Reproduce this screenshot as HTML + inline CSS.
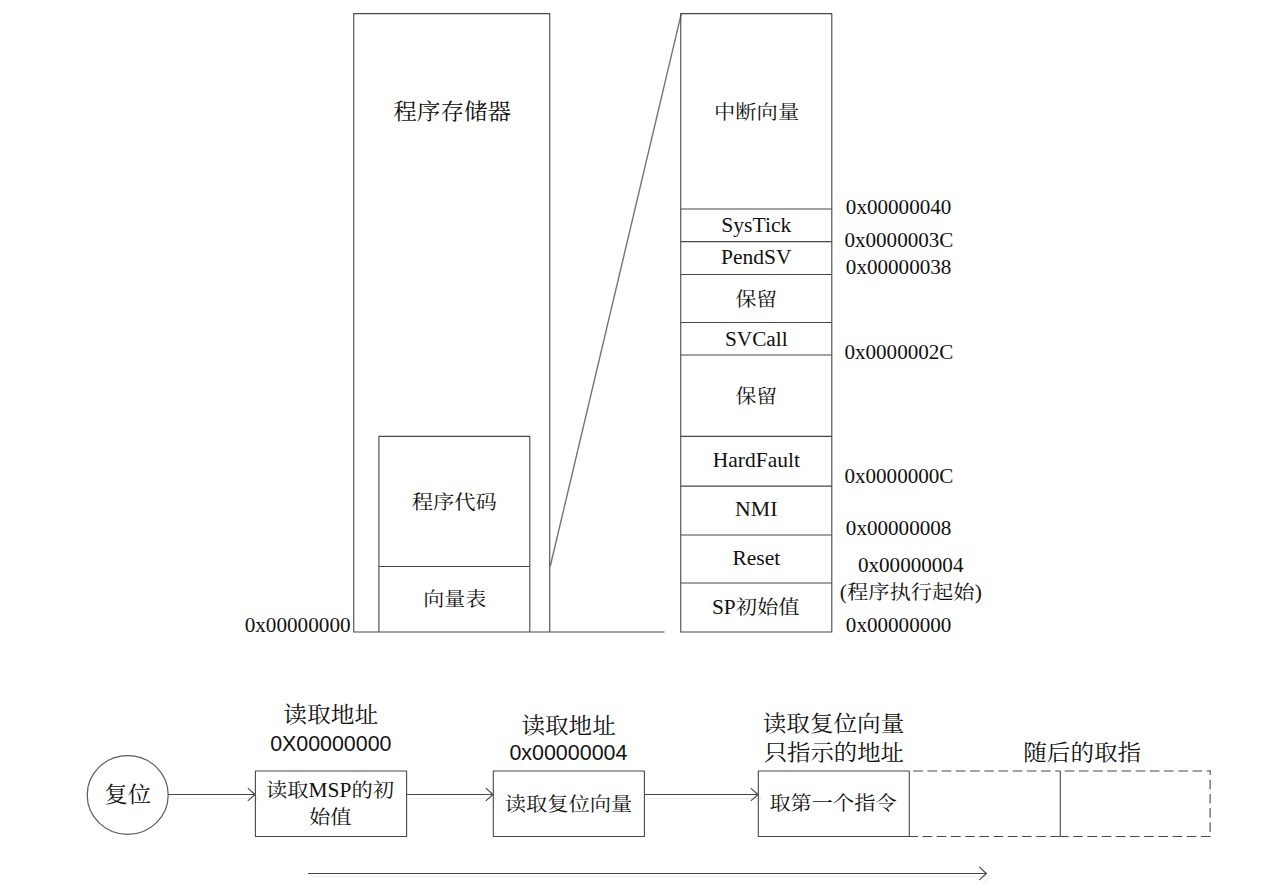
<!DOCTYPE html>
<html lang="zh-CN">
<head>
<meta charset="utf-8">
<title>向量表</title>
<style>
html,body{margin:0;padding:0;background:#fff;}
body{width:1285px;height:885px;}
svg{display:block;}
.ln{stroke:#474747;stroke-width:1.1;fill:none;stroke-linejoin:round;}
.dash{stroke:#474747;stroke-width:1.1;fill:none;stroke-dasharray:9.6 4.6;}
.ghost{stroke:#ececec;stroke-width:1;fill:none;}
text{fill:#111;font-family:"Liberation Serif", "Noto Serif CJK SC", serif;font-size:21.4px;text-anchor:middle;}
.c{font-weight:400;}
.sans{font-family:"Liberation Sans", "Noto Serif CJK SC", sans-serif;}
</style>
</head>
<body>
<svg width="1285" height="885" viewBox="0 0 1285 885">
<g class="ln">
<path d="M549.75 632.05V13.6H353.75V632.05H664.5"/>
<path d="M378.9 632.05V436.4H529.8V632.05"/>
<path d="M378.9 566.5H529.8"/>
<path d="M550.2 566.5L681.3 13.6" style="stroke:#747474;stroke-width:1.4"/>
<rect x="680.75" y="13.6" width="151.05" height="618.45"/>
<path d="M680.75 209H831.8M680.75 241.6H831.8M680.75 274.5H831.8M680.75 322.5H831.8M680.75 355H831.8M680.75 436.4H831.8M680.75 486.1H831.8M680.75 535H831.8M680.75 583H831.8"/>
</g>
<text transform="translate(452.2 119) scale(1 0.92)" class="c" style="font-size:23.6px">程序存储器</text>
<text transform="translate(454.3 509) scale(1 0.92)" class="c" style="font-size:21.3px">程序代码</text>
<text transform="translate(454.8 606) scale(1 0.92)" class="c" style="font-size:21px">向量表</text>
<text x="297.6" y="632" style="font-size:21.2px">0x00000000</text>
<text transform="translate(756.6 119) scale(1 0.92)" class="c" style="font-size:21.3px">中断向量</text>
<text x="756.3" y="232" style="font-size:21.6px">SysTick</text>
<text x="756.3" y="264" style="font-size:21.5px">PendSV</text>
<text transform="translate(756.3 306) scale(1 0.92)" class="c" style="font-size:20.9px">保留</text>
<text x="756.3" y="346" style="font-size:21.3px">SVCall</text>
<text transform="translate(756.3 403) scale(1 0.92)" class="c" style="font-size:20.9px">保留</text>
<text x="756.3" y="467" style="font-size:21.5px">HardFault</text>
<text x="756.3" y="516" style="font-size:21.8px">NMI</text>
<text x="756.3" y="565" style="font-size:21.5px">Reset</text>
<text transform="translate(755.8 614) scale(1 0.92)" style="font-size:21.4px"><tspan style="font-size:23.26px" textLength="23.8" lengthAdjust="spacingAndGlyphs">SP</tspan><tspan class="c" style="font-size:21.3px">初始值</tspan></text>
<text x="898.6" y="214" style="font-size:21.1px">0x00000040</text>
<text x="898.9" y="247" style="font-size:21.1px">0x0000003C</text>
<text x="898.6" y="274" style="font-size:21.1px">0x00000038</text>
<text x="898.9" y="359" style="font-size:21.1px">0x0000002C</text>
<text x="898.9" y="483" style="font-size:21.1px">0x0000000C</text>
<text x="898.6" y="535" style="font-size:21.1px">0x00000008</text>
<text x="910.7" y="572" style="font-size:21.1px">0x00000004</text>
<text transform="translate(910.8 599) scale(1 0.92)" style="font-size:21.4px"><tspan style="font-size:23.26px" textLength="7.13" lengthAdjust="spacingAndGlyphs">(</tspan><tspan class="c" style="font-size:21.3px">程序执行起始</tspan><tspan style="font-size:23.26px" textLength="7.13" lengthAdjust="spacingAndGlyphs">)</tspan></text>
<text x="898.6" y="632" style="font-size:21.1px">0x00000000</text>
<g class="ghost" transform="translate(3.4 4)">
<path d="M168.4 794.5H255M247.8 788.1L255 794.5L247.8 800.9"/>
<path d="M406.6 794.5H493M485.8 788.1L493 794.5L485.8 800.9"/>
<path d="M644.4 794.5H758M750.8 788.1L758 794.5L750.8 800.9"/>
</g>
<g class="ghost" transform="translate(3.4 3)">
<path d="M308 873.5H986.4M979.2 866.9L986.4 873.5L979.2 880.1"/>
</g>
<g class="ln">
<ellipse cx="127.7" cy="795" rx="40.5" ry="39.4" style="stroke:#5e5e5e;stroke-width:1.25"/>
<rect x="255.4" y="771" width="151.2" height="65.5"/>
<rect x="493.3" y="771" width="151.1" height="65.5"/>
<rect x="758.3" y="771" width="151" height="65.5"/>
<path d="M1060.3 771V836.5"/>
<path d="M168.4 794.5H255M247.8 788.1L255 794.5L247.8 800.9"/>
<path d="M406.6 794.5H493M485.8 788.1L493 794.5L485.8 800.9"/>
<path d="M644.4 794.5H758M750.8 788.1L758 794.5L750.8 800.9"/>
<path d="M308 873.5H986.4M979.2 866.9L986.4 873.5L979.2 880.1"/>
</g>
<g class="dash">
<path d="M908.4 836.5H1060.3"/>
<path d="M1060.3 771H909.3" stroke-dashoffset="4.6"/>
<path d="M1210.6 836.5H1060.3"/>
<path d="M1210.1 831.9V770.4"/>
<path d="M1210.6 771H1060.3" stroke-dashoffset="5.7"/>
</g>
<text transform="translate(127.7 802) scale(1 0.92)" class="c" style="font-size:23.3px">复位</text>
<text transform="translate(330.7 722) scale(1 0.92)" class="c" style="font-size:23.75px">读取地址</text>
<text x="330.8" y="751" class="sans" style="font-size:21.4px">0X00000000</text>
<text transform="translate(330 797) scale(1 0.92)" style="font-size:21.4px"><tspan class="c" style="font-size:21.3px">读取</tspan><tspan style="font-size:23.26px" textLength="42.83" lengthAdjust="spacingAndGlyphs">MSP</tspan><tspan class="c" style="font-size:21.3px">的初</tspan></text>
<text transform="translate(330.3 824) scale(1 0.92)" class="c" style="font-size:21.3px">始值</text>
<text transform="translate(568.6 733) scale(1 0.92)" class="c" style="font-size:23.6px">读取地址</text>
<text x="568.4" y="760" class="sans" style="font-size:21.45px">0x00000004</text>
<text transform="translate(568.5 811) scale(1 0.92)" class="c" style="font-size:21.3px">读取复位向量</text>
<text transform="translate(833.5 731) scale(1 0.92)" class="c" style="font-size:23.6px">读取复位向量</text>
<text transform="translate(833.8 760) scale(1 0.92)" class="c" style="font-size:23.4px">只指示的地址</text>
<text transform="translate(833 810) scale(1 0.92)" class="c" style="font-size:21.2px">取第一个指令</text>
<text transform="translate(1082.2 760) scale(1 0.92)" class="c" style="font-size:23.6px">随后的取指</text>
</svg>
</body>
</html>
